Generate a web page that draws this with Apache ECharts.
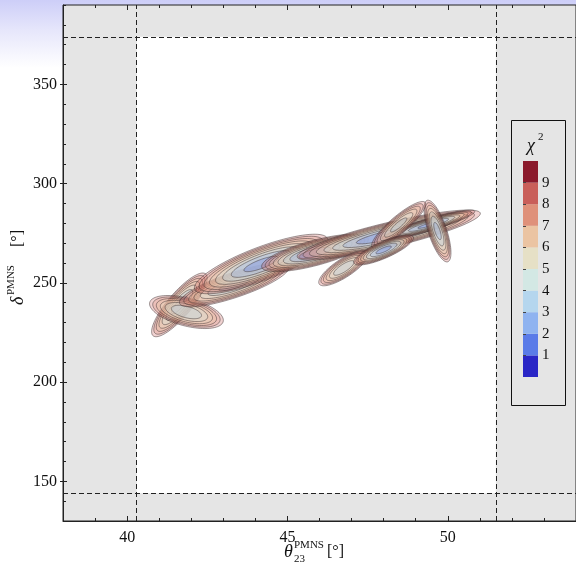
<!DOCTYPE html>
<html>
<head>
<meta charset="utf-8">
<script src="https://cdn.jsdelivr.net/npm/echarts@6/dist/echarts.min.js"></script>
<style>
html,body{margin:0;padding:0;}
body{width:576px;height:570px;background:linear-gradient(to bottom,#cdcef8 0px,#e6e6fb 30px,#ffffff 68px,#ffffff 100%);}
#chart{width:576px;height:570px;}
</style>
</head>
<body>
<div id="chart"></div>
<script>
// ---- axis ranges and ticks ----
var xRange = [38, 54];
var yRange = [130, 390];
var xTickLabels = [40, 45, 50];
var yTickLabels = [150, 200, 250, 300, 350];

// ---- allowed (3 sigma) region boundaries ----
var thetaBounds = [40.3, 51.5];
var deltaBounds = [144, 374];

// ---- chi^2 colour scale ----
var chiLevels = [1, 2, 3, 4, 5, 6, 7, 8, 9];
var chiBandLower = [0, 1, 2, 3, 4, 5, 6, 7, 8, 9];
var chiColors = ['#2a26c6', '#5a7be8', '#8fb3f0', '#b5d6ee', '#d3e8e4',
                 '#e6e0c6', '#ebc4a2', '#df917a', '#c95f5a', '#8b1a2c'];

// ---- chi^2 minima (Gaussian approximations), one entry per minimum ----
var blobTheta    = [41.63, 41.85, 43.34, 44.18, 45.86, 48.16, 49.40, 49.68, 48.47, 46.76, 48.00];
var blobDelta    = [238.9, 235.3, 248.9, 259.5, 265.1, 274.1, 279.2, 276.1, 279.2, 257.5, 266.6];
var blobSigTheta = [0.34, 0.47, 0.67, 0.76, 0.6, 1.01, 0.53, 0.165, 0.36, 0.32, 0.34];
var blobSigDelta = [6.3, 3.4, 4.31, 5.48, 3.4, 4.45, 2.76, 6.1, 5.03, 3.67, 2.77];
var blobRho      = [0.84, -0.5, 0.8, 0.8, 0.72, 0.86, 0.9, -0.7, 0.88, 0.8, 0.8];
var blobMin      = [2.5, 3.0, 2.5, 1.5, 1.3, 1.0, 1.6, 2.5, 3.5, 3.0, 1.5];

var FONT = 'Liberation Serif';

function hexToRgba(hex, a) {
  var r = parseInt(hex.slice(1, 3), 16), g = parseInt(hex.slice(3, 5), 16), b = parseInt(hex.slice(5, 7), 16);
  return 'rgba(' + r + ',' + g + ',' + b + ',' + a + ')';
}

var blobData = blobTheta.map(function (t, i) {
  return [blobTheta[i], blobDelta[i], blobSigTheta[i], blobSigDelta[i], blobRho[i], blobMin[i]];
});

function renderBlob(params, api) {
  var cx = api.value(0), cy = api.value(1), sx = api.value(2), sy = api.value(3),
      rho = api.value(4), mn = api.value(5);
  var children = [];
  var q = Math.sqrt(1 - rho * rho);
  for (var li = chiLevels.length - 1; li >= 0; li--) {
    var k = chiLevels[li];
    var d = k - mn;
    if (d <= 0.05) continue;
    var r = Math.sqrt(d);
    var pts = [];
    for (var j = 0; j < 90; j++) {
      var t = j / 90 * Math.PI * 2;
      var u = r * Math.cos(t), v = r * Math.sin(t);
      pts.push(api.coord([cx + sx * u, cy + sy * (rho * u + q * v)]));
    }
    children.push({
      type: 'polygon',
      shape: { points: pts },
      style: {
        fill: hexToRgba(chiColors[li], 0.28),
        stroke: 'rgba(55,45,45,0.6)',
        lineWidth: 0.8
      }
    });
  }
  return { type: 'group', children: children };
}

var allowedData = [[thetaBounds[0], deltaBounds[0], thetaBounds[1], deltaBounds[1]]];

var colorbarData = chiBandLower.map(function (v, i) { return [v, v + 1, i]; });

var option = {
  animation: false,
  backgroundColor: 'transparent',
  grid: [
    { left: 63, top: 5, width: 515, height: 516, show: true, backgroundColor: '#e5e5e5',
      borderColor: '#222', borderWidth: 1, containLabel: false },
    { left: 523, top: 161, width: 15, height: 216, show: false }
  ],
  xAxis: [
    { type: 'value', gridIndex: 0, min: xRange[0], max: xRange[1], position: 'bottom',
      axisLine: { show: true, lineStyle: { color: '#222', width: 1 } },
      axisTick: { show: true, inside: true, length: 5, customValues: xTickLabels, lineStyle: { color: '#222' } },
      axisLabel: { show: true, customValues: xTickLabels, margin: 9, fontFamily: FONT, fontSize: 16, color: '#111' },
      splitLine: { show: false } },
    { type: 'value', gridIndex: 0, min: xRange[0], max: xRange[1], interval: 1, position: 'bottom',
      axisLine: { show: false }, axisTick: { show: true, inside: true, length: 3, lineStyle: { color: '#222' } },
      axisLabel: { show: false }, splitLine: { show: false } },
    { type: 'value', gridIndex: 0, min: xRange[0], max: xRange[1], interval: 1, position: 'top',
      axisLine: { show: false }, axisTick: { show: true, inside: true, length: 3, lineStyle: { color: '#222' } },
      axisLabel: { show: false }, splitLine: { show: false } },
    { type: 'value', gridIndex: 0, min: xRange[0], max: xRange[1], position: 'top',
      axisLine: { show: false }, axisTick: { show: true, inside: true, length: 5, customValues: xTickLabels, lineStyle: { color: '#222' } },
      axisLabel: { show: false }, splitLine: { show: false } },
    { type: 'value', gridIndex: 1, min: 0, max: 1, show: false }
  ],
  yAxis: [
    { type: 'value', gridIndex: 0, min: yRange[0], max: yRange[1], position: 'left',
      axisLine: { show: true, lineStyle: { color: '#222', width: 1 } },
      axisTick: { show: true, inside: true, length: 4, customValues: yTickLabels, lineStyle: { color: '#222' } },
      axisLabel: { show: true, customValues: yTickLabels, margin: 6, fontFamily: FONT, fontSize: 16, color: '#111' },
      splitLine: { show: false } },
    { type: 'value', gridIndex: 0, min: yRange[0], max: yRange[1], interval: 10, position: 'left',
      axisLine: { show: false }, axisTick: { show: true, inside: true, length: 3, lineStyle: { color: '#222' } },
      axisLabel: { show: false }, splitLine: { show: false } },
    { type: 'value', gridIndex: 0, min: yRange[0], max: yRange[1], position: 'left',
      axisLine: { show: false }, axisTick: { show: true, inside: false, length: 3, customValues: yTickLabels, lineStyle: { color: '#222' } },
      axisLabel: { show: false }, splitLine: { show: false } },
    { type: 'value', gridIndex: 1, min: 0, max: 10, position: 'right', z: 20,
      axisLine: { show: false },
      axisTick: { show: true, inside: false, length: 3, customValues: chiLevels, lineStyle: { color: '#444' } },
      axisLabel: { show: true, customValues: chiLevels, margin: 4, fontFamily: FONT, fontSize: 15, color: '#111' },
      splitLine: { show: false } }
  ],
  graphic: [
    { type: 'rect', z: 1, shape: { x: 511.5, y: 120.5, width: 54, height: 285 },
      style: { fill: '#e5e5e5', stroke: '#111', lineWidth: 1 } },
    { type: 'text', z: 2, x: 527, y: 146, style: { text: 'χ', font: 'italic 18px "Liberation Serif"', fill: '#111', textVerticalAlign: 'middle' } },
    { type: 'text', z: 2, x: 538, y: 137, style: { text: '2', font: '11px "Liberation Serif"', fill: '#111', textVerticalAlign: 'middle' } },
    // x axis title
    { type: 'text', x: 284, y: 552, style: { text: 'θ', font: 'italic 18px "Liberation Serif"', fill: '#111', textVerticalAlign: 'middle' } },
    { type: 'text', x: 294, y: 545, style: { text: 'PMNS', font: '11px "Liberation Serif"', fill: '#111', textVerticalAlign: 'middle' } },
    { type: 'text', x: 294, y: 559, style: { text: '23', font: '11px "Liberation Serif"', fill: '#111', textVerticalAlign: 'middle' } },
    { type: 'text', x: 327, y: 552, style: { text: '[°]', font: '16px "Liberation Serif"', fill: '#111', textVerticalAlign: 'middle' } },
    // y axis title
    { type: 'group', x: 18, y: 264, rotation: Math.PI / 2, children: [
      { type: 'text', x: -41, y: 0, style: { text: 'δ', font: 'italic 18px "Liberation Serif"', fill: '#111', textVerticalAlign: 'middle' } },
      { type: 'text', x: -31, y: -7, style: { text: 'PMNS', font: '11px "Liberation Serif"', fill: '#111', textVerticalAlign: 'middle' } },
      { type: 'text', x: 17, y: 0, style: { text: '[°]', font: '16px "Liberation Serif"', fill: '#111', textVerticalAlign: 'middle' } }
    ] }
  ],
  series: [
    { type: 'custom', xAxisIndex: 0, yAxisIndex: 0, z: 2, silent: true,
      data: allowedData,
      renderItem: function (params, api) {
        var p0 = api.coord([api.value(0), api.value(3)]);
        var p1 = api.coord([api.value(2), api.value(1)]);
        return { type: 'rect', shape: { x: p0[0], y: p0[1], width: p1[0] - p0[0], height: p1[1] - p0[1] },
                 style: { fill: '#ffffff' } };
      },
      markLine: {
        silent: true, symbol: 'none', animation: false,
        label: { show: false },
        lineStyle: { color: '#222', type: [5, 3], width: 1 },
        data: [
          { xAxis: thetaBounds[0] }, { xAxis: thetaBounds[1] },
          { yAxis: deltaBounds[0] }, { yAxis: deltaBounds[1] }
        ]
      }
    },
    { type: 'custom', xAxisIndex: 0, yAxisIndex: 0, z: 3, silent: true, clip: true,
      data: blobData, renderItem: renderBlob },
    { type: 'custom', xAxisIndex: 4, yAxisIndex: 3, z: 3, silent: true,
      data: colorbarData,
      renderItem: function (params, api) {
        var p0 = api.coord([0, api.value(1)]);
        var p1 = api.coord([1, api.value(0)]);
        return { type: 'rect', shape: { x: p0[0], y: p0[1], width: p1[0] - p0[0], height: p1[1] - p0[1] },
                 style: { fill: chiColors[api.value(2)] } };
      }
    }
  ]
};

var chart = echarts.init(document.getElementById('chart'), null, { renderer: 'canvas' });
chart.setOption(option);
</script>
</body>
</html>
